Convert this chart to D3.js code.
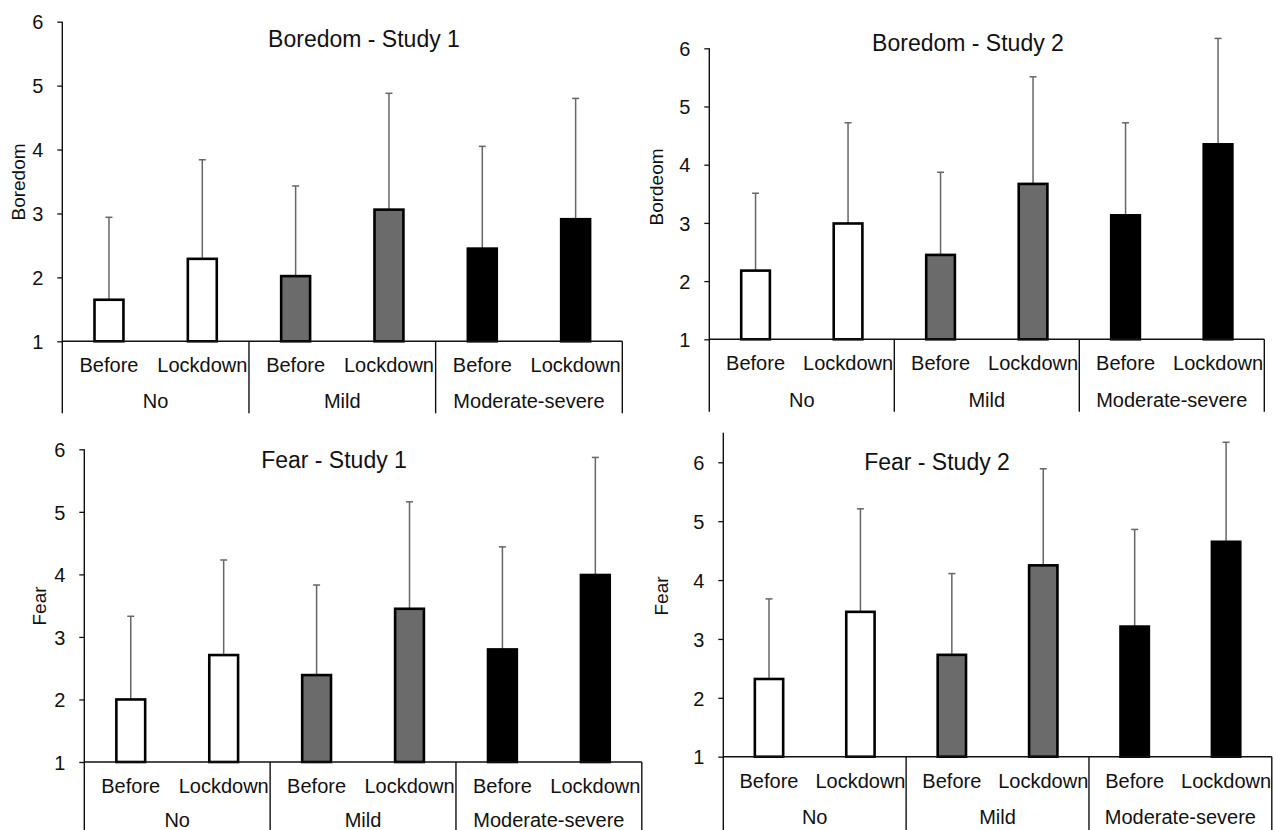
<!DOCTYPE html>
<html>
<head>
<meta charset="utf-8">
<script src="https://cdn.jsdelivr.net/npm/d3@7.9.0/dist/d3.min.js"></script>
<style>
  html, body { margin: 0; padding: 0; background: #fff; }
  svg { display: block; font-family: 'Liberation Sans', Arial, sans-serif; }
  .tick text { fill: #111; }
</style>
</head>
<body>
<svg id="chart" width="1277" height="830"></svg>
<script>
// categories
const groups = ['No', 'Mild', 'Moderate-severe'];
const periods = ['Before', 'Lockdown'];
const yTicks = [1, 2, 3, 4, 5, 6];

// means and SDs, order: No-Before, No-Lockdown, Mild-Before, Mild-Lockdown, Mod-Before, Mod-Lockdown
const boredom1Mean = [1.65, 2.29, 2.02, 3.06, 2.45, 2.91];
const boredom1SD = [1.29, 1.55, 1.41, 1.82, 1.60, 1.89];
const boredom2Mean = [2.18, 2.99, 2.45, 3.67, 3.13, 4.35];
const boredom2SD = [1.33, 1.73, 1.42, 1.84, 1.59, 1.82];
const fear1Mean = [2.00, 2.71, 2.39, 3.45, 2.80, 3.99];
const fear1SD = [1.33, 1.52, 1.44, 1.71, 1.64, 1.88];
const fear2Mean = [2.32, 3.46, 2.73, 4.25, 3.21, 4.65];
const fear2SD = [1.36, 1.75, 1.38, 1.64, 1.65, 1.69];

const titles = ['Boredom - Study 1', 'Boredom - Study 2', 'Fear - Study 1', 'Fear - Study 2'];
const yTitles = ['Boredom', 'Bordeom', 'Fear', 'Fear'];
const axisMax = [6, 6, 6, 6.5];

const fills = ['#ffffff', '#6b6b6b', '#000000'];

// layout of each panel on the page
const layout = [
  { left: 62.3, right: 622.3, y1: 341.3, y6: 21.7, bottom: 413.3, subY: 371.7, grpY: 408.3, tx: 364, ty: 46.7, ax: 18, ay: 182 },
  { left: 709.3, right: 1264.3, y1: 339.3, y6: 48.3, bottom: 411.7, subY: 370, grpY: 406.7, tx: 968, ty: 50.7, ax: 656, ay: 187 },
  { left: 84.3, right: 641.8, y1: 762, y6: 449.3, bottom: 831, subY: 792.7, grpY: 827, tx: 334, ty: 468.3, ax: 39, ay: 606 },
  { left: 723.3, right: 1271.8, y1: 756.7, y6: 462.3, bottom: 831, subY: 787.7, grpY: 824, tx: 937, ty: 470, ax: 661, ay: 596 },
];

const means = [boredom1Mean, boredom2Mean, fear1Mean, fear2Mean];
const sds = [boredom1SD, boredom2SD, fear1SD, fear2SD];

const svg = d3.select('#chart');

function drawPanel(i) {
  const L = layout[i];
  const keys = groups.flatMap((g) => periods.map((p) => g + '|' + p));
  const rows = keys.map((k, j) => ({
    key: k,
    group: k.split('|')[0],
    period: k.split('|')[1],
    gi: Math.floor(j / 2),
    mean: means[i][j],
    sd: sds[i][j],
  }));

  const x = d3.scaleBand().domain(keys).range([L.left, L.right]).paddingInner(0.69).paddingOuter(0.345);
  const xg = d3.scaleBand().domain(groups).range([L.left, L.right]);
  const y = d3.scaleLinear().domain([1, 6]).range([L.y1, L.y6]);

  const g = svg.append('g');

  // y axis ticks + labels
  const yAxis = d3.axisLeft(y).tickValues(yTicks).tickSize(5).tickSizeOuter(0).tickPadding(14).tickFormat(d3.format('d'));
  const ya = g.append('g').attr('transform', `translate(${L.left},0)`).call(yAxis);
  ya.select('.domain').remove();
  ya.selectAll('.tick line').attr('stroke', '#111').attr('stroke-width', 1.3);
  ya.selectAll('.tick text').style('font-size', '20px').attr('dy', '0.36em');

  // error bars
  const eb = g.append('g').attr('stroke', '#666').attr('stroke-width', 1.5);
  eb.selectAll('line.v').data(rows).join('line').attr('class', 'v')
    .attr('x1', (d) => x(d.key) + x.bandwidth() / 2)
    .attr('x2', (d) => x(d.key) + x.bandwidth() / 2)
    .attr('y1', (d) => y(d.mean))
    .attr('y2', (d) => y(d.mean + d.sd));
  eb.selectAll('line.c').data(rows).join('line').attr('class', 'c')
    .attr('x1', (d) => x(d.key) + x.bandwidth() / 2 - 3.5)
    .attr('x2', (d) => x(d.key) + x.bandwidth() / 2 + 3.5)
    .attr('y1', (d) => y(d.mean + d.sd))
    .attr('y2', (d) => y(d.mean + d.sd));

  // bars
  g.append('g').selectAll('rect').data(rows).join('rect')
    .attr('x', (d) => x(d.key))
    .attr('width', x.bandwidth())
    .attr('y', (d) => y(d.mean))
    .attr('height', (d) => y(1) - y(d.mean))
    .attr('fill', (d) => fills[d.gi])
    .attr('stroke', '#000')
    .attr('stroke-width', 2.6);

  // axis lines
  const lines = g.append('g').attr('stroke', '#111').attr('stroke-width', 1.4);
  lines.append('line').attr('x1', L.left).attr('x2', L.left).attr('y1', y(axisMax[i])).attr('y2', L.bottom);
  lines.append('line').attr('x1', L.left).attr('x2', L.right).attr('y1', y(1)).attr('y2', y(1));
  groups.forEach((grp) => {
    const xr = xg(grp) + xg.bandwidth();
    lines.append('line').attr('x1', xr).attr('x2', xr).attr('y1', y(1)).attr('y2', L.bottom);
  });

  // category labels
  g.append('g').selectAll('text').data(rows).join('text')
    .attr('x', (d) => x(d.key) + x.bandwidth() / 2)
    .attr('y', L.subY)
    .attr('text-anchor', 'middle')
    .attr('fill', '#111')
    .style('font-size', '20px')
    .text((d) => d.period);
  g.append('g').selectAll('text').data(groups).join('text')
    .attr('x', (d) => xg(d) + xg.bandwidth() / 2)
    .attr('y', L.grpY)
    .attr('text-anchor', 'middle')
    .attr('fill', '#111')
    .style('font-size', '20px')
    .text((d) => d);

  // titles
  g.append('text').attr('x', L.tx).attr('y', L.ty).attr('text-anchor', 'middle')
    .attr('fill', '#111').style('font-size', '23px').text(titles[i]);
  g.append('text').attr('transform', `translate(${L.ax},${L.ay}) rotate(-90)`)
    .attr('text-anchor', 'middle').attr('dy', '0.35em')
    .attr('fill', '#111').style('font-size', '19px').text(yTitles[i]);
}

[0, 1, 2, 3].forEach(drawPanel);
</script>
</body>
</html>
